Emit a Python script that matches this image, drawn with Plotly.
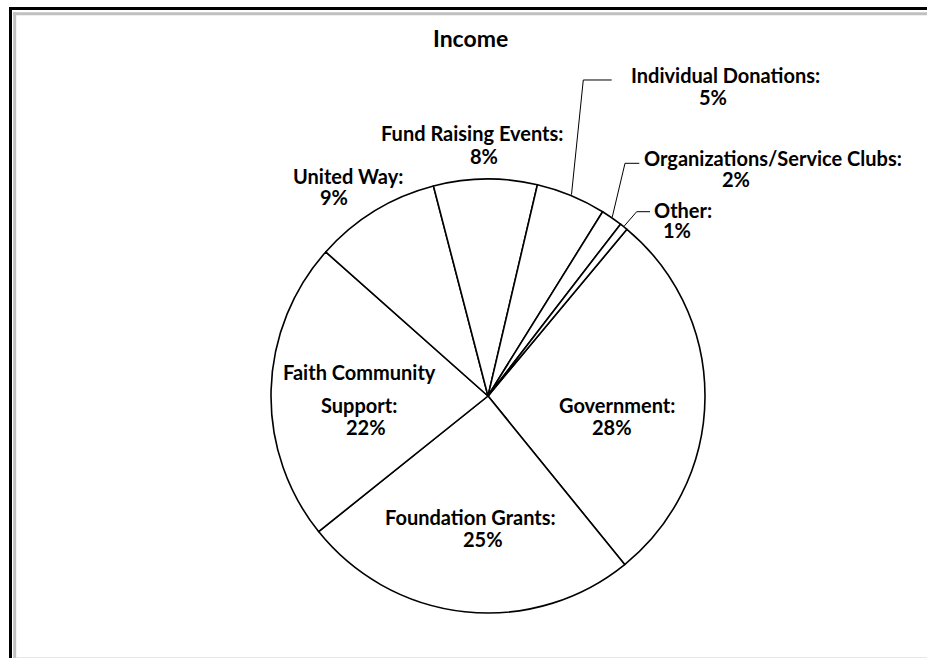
import math
import plotly.graph_objects as go

# ---- data ----
categories = ["Government", "Foundation Grants", "Faith Community Support", "United Way",
              "Fund Raising Events", "Individual Donations", "Organizations/Service Clubs", "Other"]
values = [28.1, 25.1, 22.3, 9.4, 7.7, 5.2, 1.6, 0.6]
title_text = "Income"

# ---- layout constants ----
W, H = 927, 658
CX, CY, R = 488, 396, 217
ROT = 39.8
FONT = "Lato"
FS = 20

def px(x, y):
    return x / W, 1 - y / H

total = sum(values)
pcts = [f"{round(v / total * 100)}%" for v in values]

fig = go.Figure()
fig.add_trace(go.Pie(
    labels=categories, values=values, sort=False, direction="clockwise", rotation=ROT,
    marker=dict(colors=["#ffffff"] * len(values), line=dict(color="#000000", width=1.6)),
    textinfo="none", hoverinfo="none", showlegend=False,
    domain=dict(x=[(CX - R) / W, (CX + R) / W], y=[1 - (CY + R) / H, 1 - (CY - R) / H]),
))

# label lines: (category index, list of (text, cx, cy))
name_lines = {
    0: [("Government:", 617, 405)],
    1: [("Foundation Grants:", 470, 516.7)],
    2: [("Faith Community", 359, 371.7), ("Support:", 359, 405)],
    3: [("United Way:", 348, 176)],
    4: [("Fund Raising Events:", 472, 133.3)],
    5: [("Individual Donations:", 725.5, 75)],
    6: [("Organizations/Service Clubs:", 773, 158)],
    7: [("Other:", 682.7, 209.5)],
}
pct_pos = {0: (612, 427), 1: (482.5, 538.5), 2: (366, 427), 3: (333.7, 196.5),
           4: (484, 155.5), 5: (713, 97), 6: (736, 179), 7: (676.7, 229.5)}

annotations = []
def add_text(t, x, y, size=FS):
    ax, ay = px(x, y)
    annotations.append(dict(text=t, x=ax, y=ay, xref="paper", yref="paper",
                            xanchor="center", yanchor="middle", showarrow=False,
                            font=dict(family=FONT, size=size, color="#000000", weight=700)))

for i in range(len(categories)):
    for t, x, y in name_lines[i]:
        add_text(t, x, y)
    add_text(pcts[i], *pct_pos[i])

add_text(title_text, 470, 38, size=23)

# leader lines for small slices: horizontal stub near the label, then to the slice's mid-arc
leaders = {5: ((611.7, 80), (583.3, 80)), 6: ((639.3, 163.3), (625, 163.3)), 7: ((650, 211.7), (636.7, 211.7))}
shapes = []
cum = 0.0
mids = []
for v in values:
    mids.append(ROT + (cum + v / 2) / total * 360)
    cum += v
for i, (p0, p1) in leaders.items():
    a = math.radians(mids[i])
    ex, ey = CX + (R + 1) * math.sin(a), CY - (R + 1) * math.cos(a)
    pts = [px(*p0), px(*p1), px(ex, ey)]
    path = "M " + " L ".join(f"{x:.5f},{y:.5f}" for x, y in pts)
    shapes.append(dict(type="path", path=path, xref="paper", yref="paper",
                       line=dict(color="#000000", width=1)))

# chart frame (left and top edges only; the right/bottom are cut off in the reference)
def seg(x0, y0, x1, y1, color, width):
    a0 = px(x0, y0); a1 = px(x1, y1)
    return dict(type="line", xref="paper", yref="paper", x0=a0[0], y0=a0[1], x1=a1[0], y1=a1[1],
                line=dict(color=color, width=width), layer="above")
shapes.append(seg(10.5, 7, 10.5, H, "#000000", 3))
shapes.append(seg(9, 8.5, W, 8.5, "#000000", 3))
shapes.append(seg(14.7, 12.2, 14.7, H, "#c0c0c0", 3))
shapes.append(seg(13.2, 13.7, W, 13.7, "#c0c0c0", 3))
shapes.append(seg(16, 657.5, W, 657.5, "#e6e6e6", 1))

fig.update_layout(
    width=W, height=H, margin=dict(l=0, r=0, t=0, b=0),
    paper_bgcolor="#ffffff", plot_bgcolor="#ffffff",
    annotations=annotations, shapes=shapes, showlegend=False,
)

fig.write_html("out.html", config={"displayModeBar": False},
               post_script="document.body.style.margin='0';document.body.style.overflow='hidden';")
